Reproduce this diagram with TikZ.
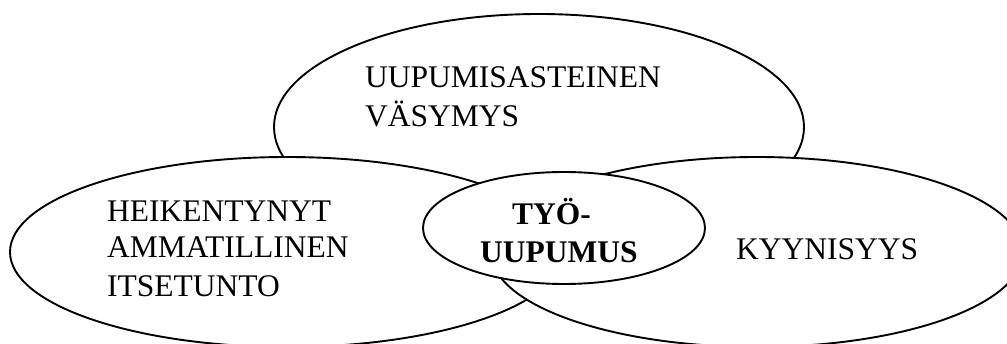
\documentclass[tikz,border=0pt]{standalone}
\usepackage{fontspec}
\setmainfont{Liberation Serif}
\usetikzlibrary{shapes.geometric}
\begin{document}
\begin{tikzpicture}[x=1pt,y=1pt,
  blob/.style={ellipse,draw,fill=white,line width=1.9pt,inner sep=0pt},
  lbl/.style={anchor=base west,inner sep=0pt,font=\fontsize{31.5}{37}\selectfont},
  blbl/.style={lbl,font=\fontsize{31.5}{37}\selectfont\bfseries}]
\useasboundingbox (0,0) rectangle (1007,343);
\node[blob,minimum width=530pt,minimum height=226pt] (top) at (539,216) {};
\node[blob,minimum width=554pt,minimum height=190pt] (left) at (287,91) {};
\node[blob,minimum width=532pt,minimum height=190pt] (right) at (757,91) {};
\node[blob,minimum width=282pt,minimum height=112pt] (center) at (564,115) {};
\node[lbl] (t1) at (365,255.5) {UUPUMISASTEINEN};
\node[lbl] (t2) at (365,216) {VÄSYMYS};
\node[lbl] (l1) at (107,121) {HEIKENTYNYT};
\node[lbl] (l2) at (107,85) {AMMATILLINEN};
\node[lbl] (l3) at (107,47) {ITSETUNTO};
\node[lbl] (r1) at (736,83) {KYYNISYYS};
\node[blbl] (c1) at (512,118) {TYÖ-};
\node[blbl] (c2) at (480,81) {UUPUMUS};
\end{tikzpicture}
\end{document}
